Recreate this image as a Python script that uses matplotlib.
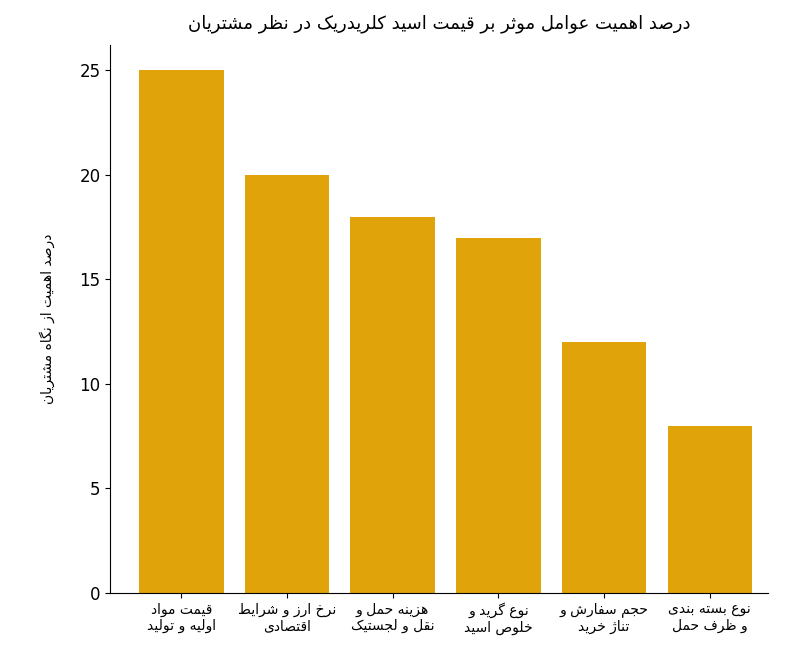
import matplotlib.pyplot as plt

# Minimal Persian shaping (matplotlib has no Arabic shaping / bidi)
FORMS = {
    'ا': (0xFE8D, 0xFE8E, None, None), 'آ': (0xFE81, 0xFE82, None, None),
    'ب': (0xFE8F, 0xFE90, 0xFE91, 0xFE92), 'ت': (0xFE95, 0xFE96, 0xFE97, 0xFE98),
    'ث': (0xFE99, 0xFE9A, 0xFE9B, 0xFE9C), 'ج': (0xFE9D, 0xFE9E, 0xFE9F, 0xFEA0),
    'ح': (0xFEA1, 0xFEA2, 0xFEA3, 0xFEA4), 'خ': (0xFEA5, 0xFEA6, 0xFEA7, 0xFEA8),
    'د': (0xFEA9, 0xFEAA, None, None), 'ذ': (0xFEAB, 0xFEAC, None, None),
    'ر': (0xFEAD, 0xFEAE, None, None), 'ز': (0xFEAF, 0xFEB0, None, None),
    'س': (0xFEB1, 0xFEB2, 0xFEB3, 0xFEB4), 'ش': (0xFEB5, 0xFEB6, 0xFEB7, 0xFEB8),
    'ص': (0xFEB9, 0xFEBA, 0xFEBB, 0xFEBC), 'ض': (0xFEBD, 0xFEBE, 0xFEBF, 0xFEC0),
    'ط': (0xFEC1, 0xFEC2, 0xFEC3, 0xFEC4), 'ظ': (0xFEC5, 0xFEC6, 0xFEC7, 0xFEC8),
    'ع': (0xFEC9, 0xFECA, 0xFECB, 0xFECC), 'غ': (0xFECD, 0xFECE, 0xFECF, 0xFED0),
    'ف': (0xFED1, 0xFED2, 0xFED3, 0xFED4), 'ق': (0xFED5, 0xFED6, 0xFED7, 0xFED8),
    'ل': (0xFEDD, 0xFEDE, 0xFEDF, 0xFEE0), 'م': (0xFEE1, 0xFEE2, 0xFEE3, 0xFEE4),
    'ن': (0xFEE5, 0xFEE6, 0xFEE7, 0xFEE8), 'ه': (0xFEE9, 0xFEEA, 0xFEEB, 0xFEEC),
    'و': (0xFEED, 0xFEEE, None, None), 'ی': (0xFBFC, 0xFBFD, 0xFBFE, 0xFBFF),
    'ک': (0xFB8E, 0xFB8F, 0xFB90, 0xFB91), 'گ': (0xFB92, 0xFB93, 0xFB94, 0xFB95),
    'پ': (0xFB56, 0xFB57, 0xFB58, 0xFB59), 'چ': (0xFB7A, 0xFB7B, 0xFB7C, 0xFB7D),
    'ژ': (0xFB8A, 0xFB8B, None, None),
}


def shape_line(s):
    out = []
    for i, c in enumerate(s):
        if c not in FORMS:
            out.append(c)
            continue
        prev = s[i - 1] if i > 0 else ''
        nxt = s[i + 1] if i + 1 < len(s) else ''
        join_prev = prev in FORMS and FORMS[prev][2] is not None
        join_next = nxt in FORMS and FORMS[c][2] is not None
        iso, fin, ini, med = FORMS[c]
        if join_prev and join_next:
            f = med
        elif join_prev:
            f = fin
        elif join_next:
            f = ini
        else:
            f = iso
        out.append(chr(f))
    return ''.join(out)[::-1]


def fa(s):
    return '\n'.join(shape_line(line) for line in s.split('\n'))


categories = [
    'قیمت مواد\nاولیه و تولید',
    'نرخ ارز و شرایط\nاقتصادی',
    'هزینه حمل و\nنقل و لجستیک',
    'نوع گرید و\nخلوص اسید',
    'حجم سفارش و\nتناژ خرید',
    'نوع بسته بندی\nو ظرف حمل',
]
values = [25, 20, 18, 17, 12, 8]
title = 'درصد اهمیت عوامل موثر بر قیمت اسید کلریدریک در نظر مشتریان'
ylabel = 'درصد اهمیت از نگاه مشتریان'

plt.rcParams['font.family'] = ['DejaVu Sans']

fig, ax = plt.subplots(figsize=(8, 6.66), dpi=100)
x = range(len(categories))
ax.bar(x, values, color='#E0A40A', width=0.8)
ax.set_xticks(list(x))
ax.set_xticklabels([fa(c) for c in categories], fontsize=10)
ax.set_ylim(0, 26.2)
ax.set_xlim(-0.67, 5.55)
ax.set_title(fa(title), fontsize=13, pad=12)
ax.set_ylabel(fa(ylabel), fontsize=10, labelpad=18)
ax.tick_params(axis='y', labelsize=12)
ax.spines['top'].set_visible(False)
ax.spines['right'].set_visible(False)
fig.subplots_adjust(left=0.138, right=0.96, top=0.932, bottom=0.11)
fig.savefig('out.png')
